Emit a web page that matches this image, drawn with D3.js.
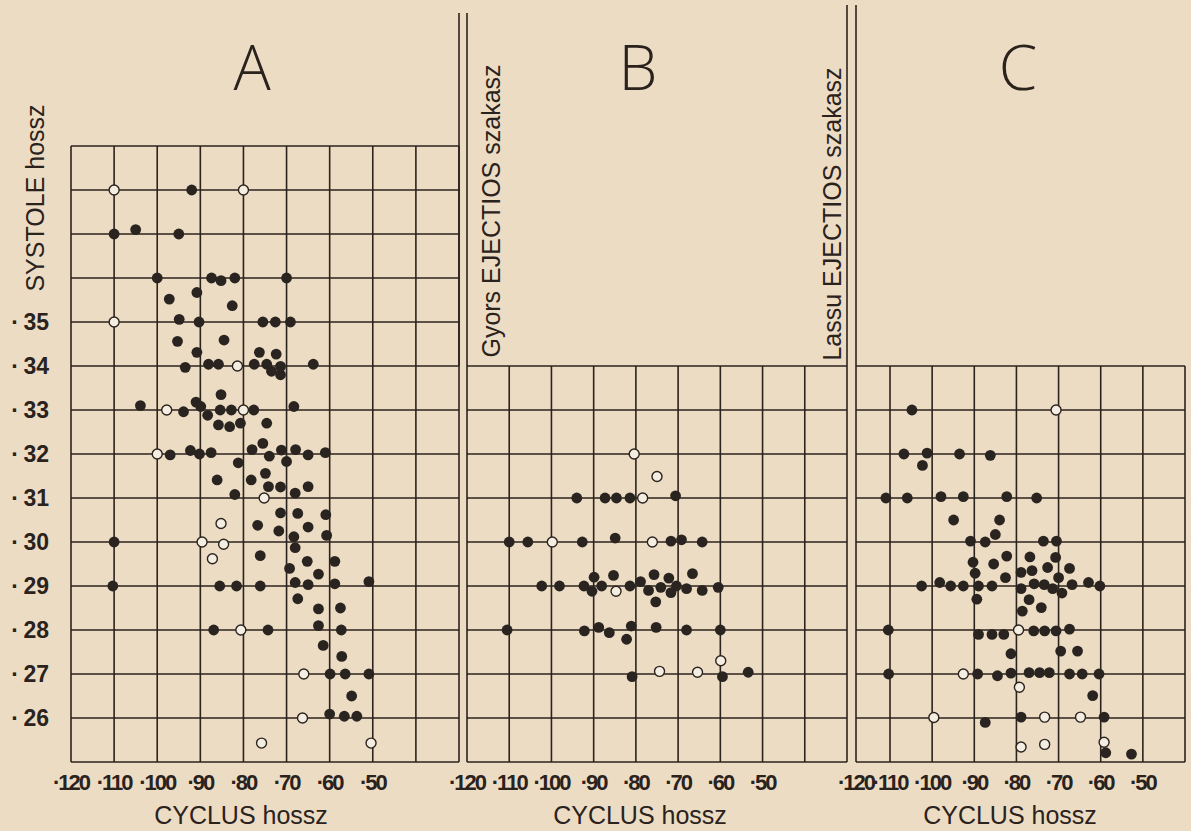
<!DOCTYPE html>
<html>
<head>
<meta charset="utf-8">
<script src="https://cdn.jsdelivr.net/npm/d3@7"></script>
<style>
body { margin: 0; background: #eddcc4; }
svg { display: block; }
text { font-family: "Liberation Sans", Arial, sans-serif; fill: #2a221c; }
</style>
</head>
<body>
<div id="chart"></div>
<script>
// tick labels
var xTicks = [120, 110, 100, 90, 80, 70, 60, 50];
var yTicks = [35, 34, 33, 32, 31, 30, 29, 28, 27, 26];

// A : SYSTOLE hossz  [cycle, systole]
var aFilled = [
  [92,38],
  [110,37],[105,37.1],[95,37],
  [100,36],[87.4,36],[85.2,35.94],[82,36],[70,36],
  [90.8,35.67],[97.2,35.52],[82.6,35.37],
  [94.9,35.06],[90.3,35],[75.5,35],[72.6,35],[69.1,35],
  [95.3,34.56],[84.5,34.59],[90.8,34.31],[76.3,34.31],[72.4,34.27],
  [93.5,33.97],[88.1,34.04],[85.8,34.04],[77.5,34.04],[74.6,34.04],[73.5,33.88],[71.4,33.99],[71.4,33.8],[63.8,34.04],
  [85.2,33.35],
  [103.9,33.1],[93.9,32.96],[91,33.18],[89.9,33.08],[88.3,32.88],[85.4,33],[82.8,33],[77.6,33],[68.3,33.08],
  [85.8,32.66],[83.2,32.62],[80.7,32.7],[74.6,32.7],
  [97,31.98],[92.3,32.08],[90.2,32],[87.5,32.03],[78,32.1],[75.5,32.24],[74,31.95],[71.2,32.09],[67.9,32.1],[70,31.83],[65,31.98],[61,32.03],
  [81.2,31.8],[86.1,31.41],[78.2,31.41],[74.9,31.56],[74.2,31.26],[71.4,31.25],[65,31.26],
  [82,31.08],[68,31.11],
  [71.4,30.66],[67.4,30.65],[60.9,30.62],[76.7,30.38],[71.8,30.25],[65,30.34],[68.3,30.12],[60.7,30.15],
  [110,30],[68,29.87],
  [76.1,29.69],[65.2,29.56],[69.3,29.4],[62.6,29.27],[58.8,29.56],
  [110.3,29],[85.5,29],[81.6,29],[76.1,29],[68,29.08],[65,29.03],[58.8,29.05],[50.9,29.1],
  [67.4,28.71],[62.6,28.48],[57.5,28.5],[62.6,28.1],
  [86.9,28],[74.3,28],[57.3,28],
  [61.5,27.65],[57.2,27.4],
  [59.9,27],[56.4,27],[50.9,27],
  [54.9,26.5],
  [60,26.09],[56.6,26.04],[53.7,26.04]
];
var aOpen = [
  [110,38],[80,38],[110,35],[81.4,34],[97.8,33],[80,33],[100,32],[75.2,31],
  [85.2,30.42],[89.6,30],[84.6,29.95],[87.2,29.62],[80.6,28],[66,27],[66.3,26],
  [75.8,25.43],[50.4,25.43]
];

// B : Gyors EJECTIOS szakasz
var bFilled = [
  [94,31],[87.3,31],[84.6,31],[81.4,31],[70.6,31.05],
  [110,30],[105.6,30],[92.7,30],[84.9,30.09],[71.7,30.02],[69.2,30.05],[64.3,30],
  [102.3,29],[98.1,29],[92.3,29],[89.9,29.2],[90.4,28.88],[88.1,29],[85.3,29.24],[81.4,29],[78.9,29.1],[77,28.9],
  [75.7,29.26],[74.1,28.97],[72.2,29.18],[71.7,28.85],[70.4,29],[68,28.94],[66.6,29.28],[64.3,28.9],[60.5,28.97],[75.3,28.64],
  [110.5,28],[92.2,27.98],[88.8,28.06],[86.3,27.94],[81.1,28.09],[82.2,27.79],[75.2,28.06],[68,28],[60,28],
  [80.9,26.94],[59.5,26.94],[53.4,27.04]
];
var bOpen = [
  [80.4,32],[75,31.49],[78.4,31],[99.8,30],[76.1,30],[84.7,28.88],[74.4,27.06],[65.4,27.04],[59.9,27.3]
];

// C : Lassu EJECTIOS szakasz
var cFilled = [
  [104.8,33],
  [106.7,32],[101.2,32.02],[102.3,31.74],[93.5,32],[86.2,31.97],
  [111.2,31],[105.9,31],[97.9,31.03],[92.6,31.03],[82.3,31.03],[75.2,31],
  [94.9,30.5],[84,30.5],[85,30.17],
  [90.9,30.02],[87.4,30],[73.6,30.02],[70.5,30.02],
  [90.3,29.54],[89.8,29.29],[85.4,29.5],[82.3,29.68],[76.8,29.66],[78.9,29.31],[76.3,29.35],[72.6,29.42],[70.7,29.65],[67.4,29.4],[70,29.19],[82.6,29.19],
  [102.5,29],[98.2,29.08],[95.6,29],[92.6,29],[89,29],[85.8,29],[78.9,28.94],[75.8,29.05],[73.4,29.03],[71.4,28.94],[69.2,28.84],[66.8,29.03],[62.9,29.08],[60.2,29],
  [89.4,28.7],[77,28.69],[78.6,28.43],[74.1,28.51],
  [110.5,28],[89,27.9],[85.8,27.9],[83,27.9],[75.9,27.98],[73.3,27.98],[70.6,27.98],[67.4,28.02],
  [81.3,27.46],[69.5,27.52],[65.5,27.52],
  [110.4,27],[89.2,27],[84.5,26.96],[81.3,27.02],[77,27.03],[74.5,27.03],[72.2,27.03],[67.4,27],[64.4,27],[60.4,27],
  [61.9,26.51],
  [87.4,25.9],[78.9,26.02],[59.2,26.02],
  [58.8,25.21],[52.7,25.18]
];
var cOpen = [
  [70.6,33],[79.5,28],[92.6,27],[79.3,26.7],[99.6,26.01],[73.3,26.02],[64.8,26.02],[78.9,25.34],[73.3,25.4],[59.2,25.45]
];

var width = 1191, height = 831;
var ink = "#2b231d";

var svg = d3.select("#chart").append("svg")
    .attr("width", width)
    .attr("height", height);

svg.append("rect").attr("width", width).attr("height", height).attr("fill", "#eddcc4");

// shared vertical scale (systole length, hundredths of s)
var y = d3.scaleLinear().domain([25, 39]).range([762, 146]);

var panels = [
  { title: "A", titleX: 252, labelX: 241, xMax: 120, xMin: 30, yTop: 39,
    x: d3.scaleLinear().domain([120, 30]).range([71, 459]),
    filled: aFilled, open: aOpen },
  { title: "B", titleX: 638, labelX: 640, xMax: 120, xMin: 30, yTop: 34,
    x: d3.scaleLinear().domain([120, 30]).range([467, 847]),
    filled: bFilled, open: bOpen },
  { title: "C", titleX: 1018, labelX: 1010, xMax: 120, xMin: 40, yTop: 34,
    x: d3.scaleLinear().domain([120, 110, 40]).range([856, 890, 1185]),
    filled: cFilled, open: cOpen }
];

panels.forEach(function(p) {
  var g = svg.append("g");
  var vx = d3.range(p.xMax, p.xMin - 1, -10);
  var hy = d3.range(25, p.yTop + 1, 1);

  // grid
  g.selectAll(".v").data(vx).join("line")
    .attr("x1", function(d) { return p.x(d); })
    .attr("x2", function(d) { return p.x(d); })
    .attr("y1", y(p.yTop)).attr("y2", y(25))
    .attr("stroke", ink).attr("stroke-width", 1.6);
  g.selectAll(".h").data(hy).join("line")
    .attr("x1", p.x(p.xMax)).attr("x2", p.x(p.xMin))
    .attr("y1", function(d) { return y(d); })
    .attr("y2", function(d) { return y(d); })
    .attr("stroke", ink).attr("stroke-width", 1.6);

  // x tick labels
  g.selectAll(".xt").data(xTicks).join("text")
    .attr("x", function(d) { return p.x(d); })
    .attr("y", 790)
    .attr("text-anchor", "middle")
    .style("font-size", "22px")
    .style("font-weight", "bold")
    .style("letter-spacing", "-2px")
    .text(function(d) { return "·" + d; });

  // title letter
  g.append("text")
    .attr("x", p.titleX).attr("y", 90)
    .attr("text-anchor", "middle")
    .style("font-family", "'Open Sans', 'DejaVu Sans', sans-serif")
    .style("font-weight", 300)
    .style("font-size", "62px")
    .text(p.title);

  g.append("text")
    .attr("x", p.labelX).attr("y", 824)
    .attr("text-anchor", "middle")
    .style("font-size", "25px")
    .text("CYCLUS hossz");

  // points
  g.selectAll(".f").data(p.filled).join("circle")
    .attr("cx", function(d) { return p.x(d[0]); })
    .attr("cy", function(d) { return y(d[1]); })
    .attr("r", 5.4)
    .attr("fill", "#2a2420");
  g.selectAll(".o").data(p.open).join("circle")
    .attr("cx", function(d) { return p.x(d[0]); })
    .attr("cy", function(d) { return y(d[1]); })
    .attr("r", 5)
    .attr("fill", "#f4ede2")
    .attr("stroke", ink)
    .attr("stroke-width", 1.4);
});

// separator lines running up between panels
var seps = [[panels[0].x(30), 13], [panels[1].x(120), 13], [panels[1].x(30), 5], [panels[2].x(120), 5]];
svg.selectAll(".sep").data(seps).join("line")
  .attr("x1", function(d) { return d[0]; }).attr("x2", function(d) { return d[0]; })
  .attr("y1", function(d) { return d[1]; }).attr("y2", y(34))
  .attr("stroke", ink).attr("stroke-width", 1.6);

// y tick labels (panel A)
svg.selectAll(".yt").data(yTicks).join("text")
  .attr("x", 49)
  .attr("y", function(d) { return y(d); })
  .attr("dy", "0.36em")
  .attr("text-anchor", "end")
  .style("font-size", "23px")
  .style("font-weight", "bold")
  .text(function(d) { return "·\u2009" + d; });

// rotated axis titles
var vTitles = [
  { text: "SYSTOLE hossz", x: 44, y: 198 },
  { text: "Gyors EJECTIOS szakasz", x: 500, y: 211 },
  { text: "Lassu EJECTIOS szakasz", x: 841, y: 214 }
];
svg.selectAll(".vt").data(vTitles).join("text")
  .attr("transform", function(d) { return "translate(" + d.x + "," + d.y + ") rotate(-90)"; })
  .attr("text-anchor", "middle")
  .style("font-size", "25px")
  .text(function(d) { return d.text; });
</script>
</body>
</html>
